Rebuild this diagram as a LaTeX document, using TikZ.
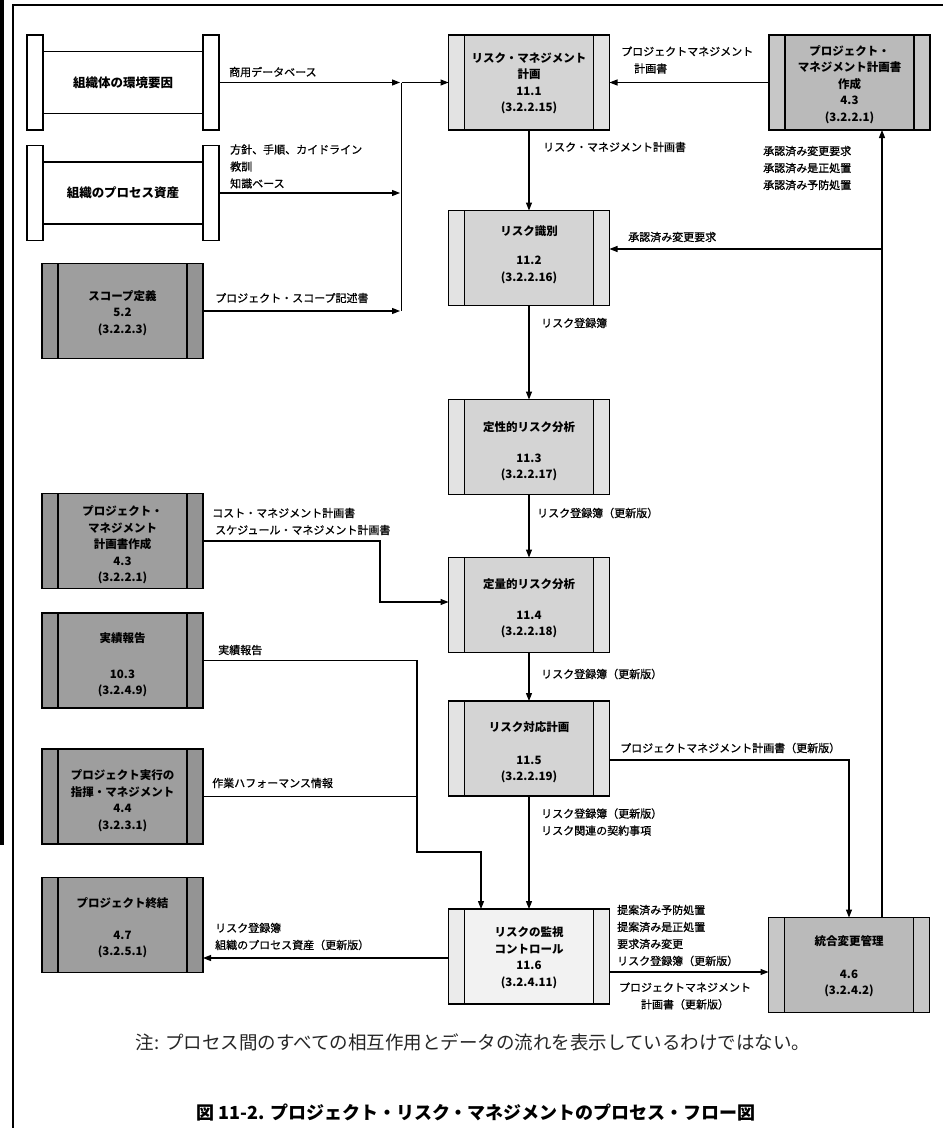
\documentclass[tikz,border=0pt]{standalone}
\usepackage{fontspec}
\setmainfont{Noto Sans CJK JP}
\newfontfamily\lblfont{Noto Sans CJK JP}[FakeBold=0.8]
\usetikzlibrary{arrows.meta}
\definecolor{rband}{gray}{0.89}
\definecolor{rmid}{gray}{0.83}
\definecolor{dband}{gray}{0.58}
\definecolor{dmid}{gray}{0.62}
\definecolor{mband}{gray}{0.78}
\definecolor{mmid}{gray}{0.73}
\definecolor{lband}{gray}{0.92}
\definecolor{lmid}{gray}{0.95}
\tikzset{
  pbox/.style={minimum width=161pt, minimum height=95pt, inner sep=0pt, outer sep=0pt},
  capbox/.style={draw, line width=1.3pt, fill=white, minimum width=16pt, minimum height=95pt, inner sep=0pt, outer sep=0pt},
  ptext/.style={font=\bfseries\fontsize{11.5}{16.5}\selectfont, align=center, inner sep=0pt},
  lbl/.style={font=\lblfont\fontsize{11}{17}\selectfont, align=left, anchor=west, inner sep=0pt},
  arr/.style={line width=1.1pt, -{Triangle[length=8pt,width=6pt]}},
  conn/.style={line width=1.1pt},
  edgeline/.style={line width=1.3pt}
}
\newcommand{\procbox}[7]{%
  \node[pbox, fill=#4] (#1) at (#2,#3) {};
  \fill[#5] ([xshift=16pt]#1.north west) rectangle ([xshift=-16pt]#1.south east);
  \draw[edgeline] ([xshift=16pt]#1.north west) -- ([xshift=16pt]#1.south west);
  \draw[edgeline] ([xshift=-16pt]#1.north east) -- ([xshift=-16pt]#1.south east);
  \draw[edgeline] (#1.north west) rectangle (#1.south east);
  \node[ptext] (#1-t) at (#2,#7) {#6};
}
\begin{document}
\begin{tikzpicture}[x=1pt,y=-1pt]
\useasboundingbox (0,0) rectangle (943,1128);
\fill[white] (0,0) rectangle (943,1128);
% frame
\fill[black] (0,0) rectangle (3.5,845);
\draw[line width=1.5pt] (13,1128) -- (13,5) -- (943,5);

% scroll boxes
\node[capbox] (envL) at (35,82.5) {};
\node[capbox] (envR) at (211,82.5) {};
\draw[edgeline] ([yshift=31pt]envL.east) -- ([yshift=31pt]envR.west);
\draw[edgeline] ([yshift=-31pt]envL.east) -- ([yshift=-31pt]envR.west);
\node[ptext, font=\bfseries\fontsize{12.5}{16}\selectfont] (env) at (123,82.5) {組織体の環境要因};

\node[capbox] (paL) at (35,193) {};
\node[capbox] (paR) at (211,193) {};
\draw[edgeline] ([yshift=31pt]paL.east) -- ([yshift=31pt]paR.west);
\draw[edgeline] ([yshift=-31pt]paL.east) -- ([yshift=-31pt]paR.west);
\node[ptext, font=\bfseries\fontsize{12.5}{16}\selectfont] (pa) at (123,193) {組織のプロセス資産};

% left process boxes
\procbox{sc}{122.5}{311}{dband}{dmid}{スコープ定義\\5.2\\(3.2.2.3)}{313}
\procbox{pmL}{122.5}{541}{dband}{dmid}{プロジェクト・\\マネジメント\\計画書作成\\4.3\\(3.2.2.1)}{545}
\procbox{prL}{122.5}{660.5}{dband}{dmid}{実績報告\\[19pt]10.3\\(3.2.4.9)}{665}
\procbox{exL}{122.5}{796.5}{dband}{dmid}{プロジェクト実行の\\指揮・マネジメント\\4.4\\(3.2.3.1)}{800.5}
\procbox{cl}{122.5}{925}{dband}{dmid}{プロジェクト終結\\[15pt]4.7\\(3.2.5.1)}{928}

% risk column
\procbox{r1}{529}{82.5}{rband}{rmid}{リスク・マネジメント\\計画\\11.1\\(3.2.2.15)}{83.5}
\procbox{r2}{529}{258}{rband}{rmid}{リスク識別\\[12.5pt]11.2\\(3.2.2.16)}{255}
\procbox{r3}{529}{447}{rband}{rmid}{定性的リスク分析\\[14pt]11.3\\(3.2.2.17)}{451.5}
\procbox{r4}{529}{605}{rband}{rmid}{定量的リスク分析\\[14pt]11.4\\(3.2.2.18)}{608.5}
\procbox{r5}{529}{748.5}{rband}{rmid}{リスク対応計画\\[16pt]11.5\\(3.2.2.19)}{752.5}
\procbox{r6}{529}{956.5}{lband}{lmid}{リスクの監視\\コントロール\\11.6\\(3.2.4.11)}{957.5}

% right boxes
\procbox{pmR}{849.5}{82.5}{mband}{mmid}{プロジェクト・\\マネジメント計画書\\作成\\4.3\\(3.2.2.1)}{84.5}
\procbox{cc}{849}{965}{mband}{mmid}{統合変更管理\\[16pt]4.6\\(3.2.4.2)}{966.5}

% collector on the left of 11.1
\coordinate (jt) at (401.5,82.5);
\coordinate (jb) at (401.5,311);
\draw[conn] (jt) -- (jb);
\draw[arr, shorten >=1.5pt] (envR.east) -- (envR.east -| jt);
\draw[arr, shorten >=1.5pt] (paR.east) -- (paR.east -| jt);
\draw[arr, shorten >=1.5pt] (sc.east) -- (sc.east -| jt);
\draw[arr] (jt) -- (r1.west);
\node[lbl] (l1) at (229,72) {商用データベース};
\node[lbl] (l2) at (230,166.5) {方針、手順、カイドライン\\教訓\\知識ベース};
\node[lbl] (l3) at (215,298) {プロジェクト・スコープ記述書};

% top right
\draw[arr] (pmR.west) -- (r1.east);
\node[lbl] (l4) at (621,60) {プロジェクトマネジメント\\\hspace{13pt}計画書};

% main chain
\draw[arr] (r1.south) -- (r2.north);
\node[lbl] (l5) at (543,147) {リスク・マネジメント計画書};
\draw[arr] (r2.south) -- (r3.north);
\node[lbl] (l6) at (541,323) {リスク登録簿};
\draw[arr] (r3.south) -- (r4.north);
\node[lbl] (l7) at (537,513) {リスク登録簿（更新版）};
\draw[arr] (r4.south) -- (r5.north);
\node[lbl] (l8) at (541,674) {リスク登録簿（更新版）};
\draw[arr] (r5.south) -- (r6.north);
\node[lbl] (l9) at (541,822) {リスク登録簿（更新版）\\リスク関連の契約事項};

% integrated change control loop
\coordinate (v1) at (882,249);
\draw[arr] (cc.north -| v1) -- (pmR.south -| v1);
\draw[arr] (v1) -- (r2.east |- v1);
\node[lbl] (l10) at (763,168) {承認済み変更要求\\承認済み是正処置\\承認済み予防処置};
\node[lbl] (l11) at (628,237) {承認済み変更要求};

% 11.5 -> 4.6
\path ([yshift=-11.5pt]r5.east) coordinate (u1);
\draw[arr] (u1) -| (cc.north);
\node[lbl] (l12) at (620,748) {プロジェクトマネジメント計画書（更新版）};

% PM plan (left) -> 11.4
\coordinate (k1) at (380,541);
\path ([yshift=3pt]r4.west) coordinate (k2);
\draw[arr] (pmL.east) -- (k1) |- (k2);
\node[lbl] (l13) at (212,521.5) {コスト・マネジメント計画書\\\hspace{3pt}スケジュール・マネジメント計画書};

% performance reports / work performance -> 11.6
\coordinate (m1) at (417,662);
\coordinate (m2) at (417,852);
\draw[arr] (prL.east) -- (prL.east -| m1) -- (m2) -| ([xshift=-48pt]r6.north);
\draw[conn] (exL.east) -- (exL.east -| m1);
\node[lbl] (l14) at (218,650) {実績報告};
\node[lbl] (l15) at (212,783) {作業ハフォーマンス情報};

% 11.6 -> 4.7
\path ([yshift=-1.5pt]r6.west) coordinate (w1);
\draw[arr] (w1) -- (w1 -| cl.east);
\node[lbl] (l16) at (215,936.5) {リスク登録簿\\組織のプロセス資産（更新版）};

% 11.6 -> 4.6
\path ([yshift=-15.5pt]r6.east) coordinate (w2);
\draw[arr] (w2) -- (w2 -| cc.west);
\node[lbl] (l17) at (617,935.5) {提案済み予防処置\\提案済み是正処置\\要求済み変更\\リスク登録簿（更新版）};
\node[lbl, anchor=center, align=center] (l18) at (685,996) {プロジェクトマネジメント\\計画書（更新版）};

% note and caption
\node[inner sep=0pt, font=\fontsize{18.5}{22}\selectfont, text=black!85] (note) at (473,1042) {注: プロセス間のすべての相互作用とデータの流れを表示しているわけではない。};
\node[inner sep=0pt, font=\bfseries\fontsize{18}{22}\selectfont] (cap) at (476,1113) {図 11-2. プロジェクト・リスク・マネジメントのプロセス・フロー図};
\end{tikzpicture}
\end{document}
